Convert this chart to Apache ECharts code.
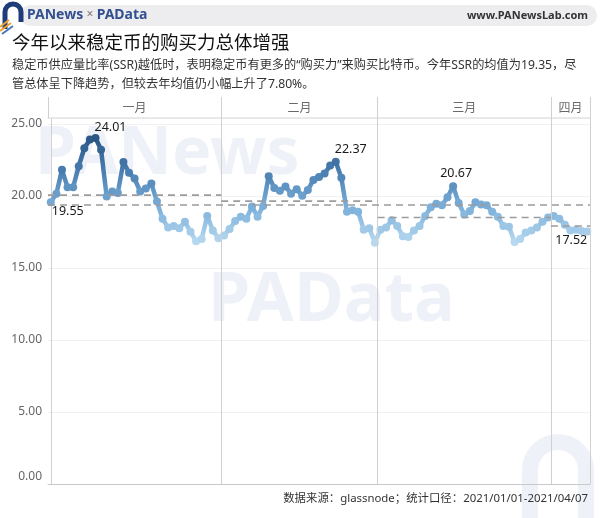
<!DOCTYPE html>
<html>
<head>
<meta charset="utf-8">
<script src="https://cdn.jsdelivr.net/npm/echarts@6/dist/echarts.min.js"></script>
<style>
html,body{margin:0;padding:0;background:#fff;}
#c{width:600px;height:518px;}
</style>
</head>
<body>
<div id="c"></div>
<script>
// ---- data ----
const months = ['一月', '二月', '三月', '四月'];
const monthDays = [31, 28, 31, 7];
const janSSR = [19.55, 20.15, 21.8, 20.6, 20.6, 22.05, 23.3, 23.9, 24.01, 23.2, 19.95, 20.3, 20.2, 22.35, 21.6, 21.2, 20.3, 20.5, 20.85, 19.6, 18.4, 17.8, 17.9, 17.75, 18.2, 17.5, 16.85, 17.0, 18.6, 17.6, 17.05];
const febSSR = [17.25, 17.7, 18.25, 18.55, 18.4, 19.25, 18.55, 19.3, 21.36, 20.55, 20.35, 20.65, 20.15, 20.45, 20.0, 20.4, 21.1, 21.3, 21.54, 22.1, 22.37, 21.25, 18.9, 19.0, 18.9, 17.65, 17.75, 16.75];
const marSSR = [17.65, 17.8, 18.3, 17.9, 17.2, 17.15, 17.6, 17.9, 18.6, 19.2, 19.45, 19.35, 19.9, 20.67, 19.5, 18.7, 18.95, 19.55, 19.4, 19.35, 18.9, 18.55, 17.9, 17.85, 16.8, 17.0, 17.45, 17.6, 17.8, 18.2, 18.5];
const aprSSR = [18.6, 18.4, 18.0, 17.6, 17.65, 17.55, 17.52];
const monthMeans = [20.05, 19.63, 18.5, 17.9];
const overallMean = 19.35;
const yTicks = [0, 5, 10, 15, 20, 25];
const labeledDays = [0, 8, 51, 72, 96];

// ---- build ----
const all = [].concat(janSSR, febSSR, marSSR, aprSSR);
const bounds = [-0.5];
monthDays.forEach((d, k) => bounds.push(bounds[k] + d));
const labelStyle = {
  0: {position: 'bottom', distance: 0, offset: [17, -1]},
  8: {position: 'top', distance: 1, offset: [15, 1]},
  51: {position: 'top', distance: 2, offset: [15, 0]},
  72: {position: 'top', distance: 2, offset: [3, 0]},
  96: {position: 'bottom', distance: 0, offset: [-16, -2]}
};
const lineData = all.map((v, i) => {
  const item = {value: [i, v]};
  if (labeledDays.indexOf(i) >= 0) {
    item.label = Object.assign({show: true, formatter: v.toFixed(2), color: '#1a1a1a', fontSize: 12.5, fontFamily: 'Noto Sans'}, labelStyle[i]);
  }
  return item;
});

const vLine = {color: '#d0d0d0', type: 'solid', width: 1};
const sepLines = bounds.slice(1).map(b => ({xAxis: b, lineStyle: vLine}));
const dash = {color: '#9c9c9c', type: [7, 5], width: 1.6};

const monthMeanSeries = monthMeans.map((m, k) => ({
  type: 'line', xAxisIndex: 0, yAxisIndex: 0, z: 5, symbol: 'none', silent: true, animation: false,
  lineStyle: dash,
  data: [[bounds[k], m], [bounds[k + 1], m]]
}));

const font = "'Noto Sans CJK SC', 'Noto Sans', sans-serif";
const latinFirst = "'Noto Sans', 'Noto Sans CJK SC', sans-serif";
const wm = 'rgba(205,214,234,0.35)';

const option = {
  backgroundColor: '#fff',
  animation: false,
  textStyle: {fontFamily: font},
  grid: [
    {left: 48, right: 10, top: 118, bottom: 34},
    {left: 48, right: 10, top: 97, height: 21}
  ],
  xAxis: [
    {type: 'value', gridIndex: 0, min: bounds[0], max: bounds[bounds.length - 1],
     axisLine: {show: true, lineStyle: {color: '#c9c9c9'}}, axisTick: {show: false}, axisLabel: {show: false}, splitLine: {show: false}},
    {type: 'value', gridIndex: 1, min: bounds[0], max: bounds[bounds.length - 1],
     axisLine: {show: true, lineStyle: {color: '#e4e4e4', width: 1.5}}, axisTick: {show: false}, axisLabel: {show: false}, splitLine: {show: false}}
  ],
  yAxis: [
    {type: 'value', gridIndex: 0, min: yTicks[0], max: 25.4, interval: 5,
     axisLine: {show: true, lineStyle: {color: '#d0d0d0'}}, axisTick: {show: false},
     axisLabel: {
       showMaxLabel: false,
       formatter: v => v === 0 ? '{z|0.00}' : v.toFixed(2),
       rich: {z: {padding: [0, 0, 14, 0], color: '#666', fontSize: 12, fontFamily: 'Noto Sans'}},
       color: '#666', fontSize: 12, margin: 6, fontFamily: 'Noto Sans'},
     splitLine: {show: true, lineStyle: {color: '#f1f1f1'}}},
    {type: 'value', gridIndex: 1, min: 0, max: 1, show: false}
  ],
  visualMap: {
    type: 'continuous', show: false, seriesIndex: 0, dimension: 1,
    min: 16.75, max: 24.01,
    inRange: {color: ['#b7d9f0', '#7db0da', '#4b80b2', '#2a5786']}
  },
  graphic: [
    {type: 'rect', shape: {x: 20, y: 5, width: 577, height: 21, r: 10.5}, style: {fill: '#ededf0'}, z: 1},
    {type: 'arc', shape: {cx: 13, cy: 12, r: 8, startAngle: Math.PI, endAngle: 2 * Math.PI}, style: {fill: 'none', stroke: '#1f3c7a', lineWidth: 5}, z: 2},
    {type: 'line', shape: {x1: 5, y1: 12, x2: 5, y2: 29}, style: {stroke: '#1f3c7a', lineWidth: 5}, z: 2},
    {type: 'line', shape: {x1: 21, y1: 12, x2: 21, y2: 22}, style: {stroke: '#1f3c7a', lineWidth: 5}, z: 2},
    {type: 'line', shape: {x1: 0, y1: 27, x2: 9, y2: 20}, style: {stroke: '#f0a030', lineWidth: 2}, z: 3},
    {type: 'line', shape: {x1: 0, y1: 31, x2: 11, y2: 23}, style: {stroke: '#f0a030', lineWidth: 2}, z: 3},
    {type: 'line', shape: {x1: 2, y1: 34, x2: 13, y2: 26}, style: {stroke: '#4a76c0', lineWidth: 2}, z: 3},
    {type: 'text', left: 27, top: 8, z: 3, style: {
      text: '{a|PANews} {b|×} {a|PAData}',
      rich: {a: {fontSize: 14, fontWeight: 'bold', fill: '#32508f', fontFamily: 'Noto Sans'},
             b: {fontSize: 12, fill: '#777', fontFamily: 'Noto Sans'}}}},
    {type: 'text', right: 12, top: 10, z: 3, style: {text: 'www.PANewsLab.com', fontSize: 11, fontWeight: 'bold', fill: '#333', fontFamily: 'Noto Sans'}},
    {type: 'text', left: 12, top: 33, z: 3, style: {text: '今年以来稳定币的购买力总体增强', fontSize: 18.5, fill: '#111', fontFamily: font}},
    {type: 'text', left: 12, top: 56, z: 3, style: {text: '稳定币供应量比率(SSR)越低时，表明稳定币有更多的“购买力”来购买比特币。今年SSR的均值为19.35，尽\n管总体呈下降趋势，但较去年均值仍小幅上升了7.80%。', fontSize: 12.2, lineHeight: 19, fill: '#333', fontFamily: latinFirst}},
    {type: 'text', left: 35, top: 122, z: 0, style: {text: 'PANews', fontSize: 66, fontWeight: 'bold', fill: wm, fontFamily: 'Noto Sans'}},
    {type: 'text', left: 208, top: 268, z: 0, style: {text: 'PAData', fontSize: 68, fontWeight: 'bold', fill: wm, fontFamily: 'Noto Sans'}},
    {type: 'arc', shape: {cx: 558, cy: 470, r: 28, startAngle: Math.PI, endAngle: 2 * Math.PI}, style: {fill: 'none', stroke: wm, lineWidth: 16}, z: 0},
    {type: 'line', shape: {x1: 530, y1: 470, x2: 530, y2: 518}, style: {stroke: wm, lineWidth: 16}, z: 0},
    {type: 'line', shape: {x1: 586, y1: 470, x2: 586, y2: 518}, style: {stroke: wm, lineWidth: 16}, z: 0},
    {type: 'text', right: 12, top: 493, z: 3, style: {text: '数据来源：glassnode；统计口径：2021/01/01-2021/04/07', fontSize: 11.4, fill: '#333', fontFamily: latinFirst}}
  ],
  series: [
    {
      type: 'line', xAxisIndex: 0, yAxisIndex: 0, z: 3,
      data: lineData,
      symbol: 'circle', symbolSize: 8, showSymbol: true,
      lineStyle: {width: 4.5},
      markLine: {
        silent: true, symbol: 'none', animation: false, label: {show: false},
        data: sepLines.concat([{yAxis: overallMean, lineStyle: dash}])
      }
    },
    {
      type: 'scatter', xAxisIndex: 1, yAxisIndex: 1, symbolSize: 0, silent: true,
      data: months.map((m, k) => ({value: [(bounds[k] + bounds[k + 1]) / 2, 0.5], name: m})),
      label: {show: true, position: 'inside', formatter: p => p.name, color: '#444', fontSize: 12, fontFamily: font},
      markLine: {
        silent: true, symbol: 'none', animation: false, label: {show: false},
        data: bounds.map(b => ({xAxis: b, lineStyle: vLine}))
      }
    }
  ].concat(monthMeanSeries)
};
echarts.init(document.getElementById('c')).setOption(option);
</script>
</body>
</html>
